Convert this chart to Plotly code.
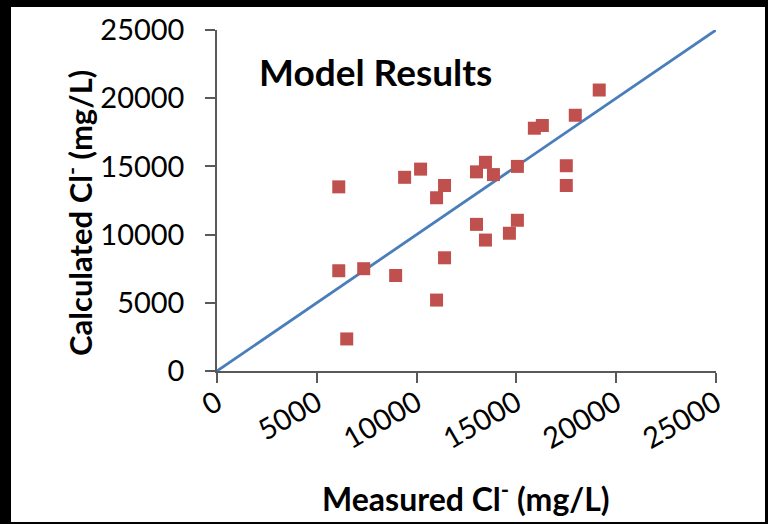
import plotly.graph_objects as go

measured = [6100, 9400, 10200, 11400, 11000, 13000, 13450, 13850, 15050, 15900,
            16300, 17950, 19150, 17500, 17500, 13000, 13450, 15050, 14650, 11400,
            6100, 7350, 8950, 11000, 6500]
calculated = [13500, 14200, 14800, 13600, 12700, 14600, 15300, 14400, 15000, 17800,
              18000, 18750, 20600, 15050, 13600, 10750, 9600, 11050, 10100, 8300,
              7350, 7500, 7000, 5200, 2350]
line_x = [0, 25000]
line_y = [0, 25000]
tick_vals = [0, 5000, 10000, 15000, 20000, 25000]
tick_text = ["0", "5000", "10000", "15000", "20000", "25000"]

FONT = "Lato"

W, H = 768, 524
L, R, T, B = 217, 52, 30, 153
pw, ph = W - L - R, H - T - B


def px_x(p):
    return (p - L) / pw


def px_y(p):
    return (H - B - p) / ph


fig = go.Figure()
fig.add_trace(go.Scatter(x=line_x, y=line_y, mode="lines",
                         line=dict(color="#4A7EBB", width=2.8), showlegend=False))
fig.add_trace(go.Scatter(x=measured, y=calculated, mode="markers",
                         marker=dict(symbol="square", size=13, color="#C0504D",
                                     line=dict(width=0)), showlegend=False))

axis_common = dict(range=[0, 25000], tickvals=tick_vals, ticktext=tick_text,
                   showgrid=False, zeroline=False, showline=True, linecolor="#595959",
                   linewidth=1.5, ticks="outside", ticklen=10, tickwidth=1.5,
                   tickcolor="#595959", tickfont=dict(family=FONT, size=29, color="black"))

fig.update_xaxes(**axis_common, tickangle=-30, ticklabelstandoff=-8)
fig.update_yaxes(**axis_common, ticklabelstandoff=15)

fig.add_annotation(x=px_x(466), y=px_y(497), xref="paper", yref="paper",
                   xanchor="center", yanchor="middle", showarrow=False,
                   text="Measured Cl<sup>-</sup> (mg/L)",
                   font=dict(family=FONT, size=32, color="black", weight="bold"))
fig.add_annotation(x=px_x(78), y=px_y(213), xref="paper", yref="paper",
                   xanchor="center", yanchor="middle", showarrow=False, textangle=-90,
                   text="Calculated Cl<sup>-</sup> (mg/L)",
                   font=dict(family=FONT, size=31, color="black", weight="bold"))
fig.add_annotation(x=px_x(257), y=px_y(71), xref="paper", yref="paper",
                   xanchor="left", yanchor="middle", showarrow=False,
                   text="Model Results",
                   font=dict(family=FONT, size=37, color="black", weight="bold"))

fig.add_shape(type="rect", xref="paper", yref="paper", layer="below",
              x0=px_x(11), x1=px_x(765), y0=px_y(522), y1=px_y(7),
              fillcolor="white", line=dict(width=0))

fig.update_layout(width=W, height=H, margin=dict(l=L, r=R, t=T, b=B),
                  paper_bgcolor="black", plot_bgcolor="white")

fig.write_html("out.html", config={"displayModeBar": False},
               post_script="document.body.style.margin='0';document.body.style.background='black';")
